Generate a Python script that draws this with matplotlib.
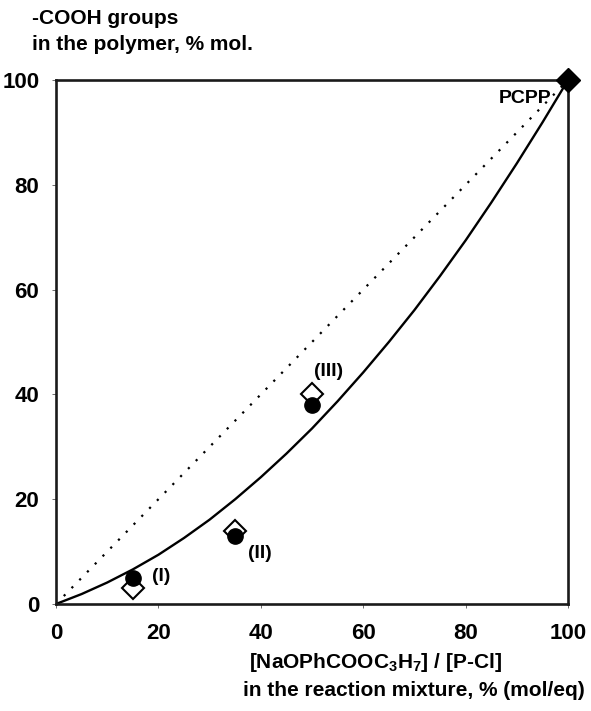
import matplotlib
matplotlib.use("Agg")
import matplotlib.pyplot as plt

plt.rcParams['font.family'] = ['Liberation Sans', 'DejaVu Sans']
plt.rcParams['font.weight'] = 'bold'
plt.rcParams['mathtext.fontset'] = 'custom'
plt.rcParams['mathtext.rm'] = 'Liberation Sans:bold'
plt.rcParams['mathtext.default'] = 'rm'

# filled circles and open diamonds (samples I, II, III)
circle_x = [15, 35, 50]
circle_y = [5, 13, 38]
diamond_x = [15, 35, 50]
diamond_y = [3, 14, 40]
pcpp_x = [100]
pcpp_y = [100]

# solid curve, every 5 units
curve_x = [0, 5, 10, 15, 20, 25, 30, 35, 40, 45, 50,
           55, 60, 65, 70, 75, 80, 85, 90, 95, 100]
curve_y = [0, 1.9, 4.1, 6.6, 9.4, 12.6, 16.1, 20.0, 24.2, 28.7, 33.5,
           38.7, 44.2, 50.0, 56.1, 62.6, 69.4, 76.6, 84.1, 91.9, 100]

# dotted diagonal
diag_x = [0, 100]
diag_y = [0, 100]

ticks = [0, 20, 40, 60, 80, 100]

fig = plt.figure(figsize=(5.91, 7.11), dpi=100)
ax = fig.add_axes([0.0948, 0.1505, 0.8664, 0.737])

ax.plot(diag_x, diag_y, color='black', linestyle=(0, (1, 4)), linewidth=1.6)
ax.plot(curve_x, curve_y, color='black', linewidth=1.7)
ax.plot(diamond_x, diamond_y, linestyle='none', marker='D', markersize=11,
        markerfacecolor='white', markeredgecolor='black', markeredgewidth=1.5,
        clip_on=False, zorder=3)
ax.plot(circle_x, circle_y, linestyle='none', marker='o', markersize=11,
        color='black', clip_on=False, zorder=4)
ax.plot(pcpp_x, pcpp_y, linestyle='none', marker='D', markersize=12.5,
        color='black', clip_on=False, zorder=5)

# labels on the points
ax.text(91.6, 96.4, 'PCPP', fontsize=14, fontweight='bold', ha='center', va='center')
ax.text(20.6, 5.2, '(I)', fontsize=14, fontweight='bold', ha='center', va='center')
ax.text(39.8, 9.7, '(II)', fontsize=14, fontweight='bold', ha='center', va='center')
ax.text(53.2, 44.3, '(III)', fontsize=14, fontweight='bold', ha='center', va='center')

ax.set_xlim(0, 100)
ax.set_ylim(0, 100)
ax.set_xticks(ticks)
ax.set_yticks(ticks)
ax.tick_params(direction='out', length=3, width=0.6, color='#555555', labelsize=16)
ax.tick_params(axis='x', pad=11)
ax.tick_params(axis='y', pad=9)
for lab in ax.get_xticklabels() + ax.get_yticklabels():
    lab.set_fontweight('bold')
for s in ax.spines.values():
    s.set_linewidth(1.9)
    s.set_color('#1a1a1a')

# axis titles
fig.text(0.054, 0.966, '-COOH groups', fontsize=15, fontweight='bold', va='baseline', ha='left')
fig.text(0.054, 0.930, 'in the polymer, % mol.', fontsize=15, fontweight='bold', va='baseline', ha='left')
fig.text(0.421, 0.0605, '[NaOPhCOOC$_3$H$_7$] / [P-Cl]', fontsize=15, va='baseline', ha='left')
fig.text(0.99, 0.021, 'in the reaction mixture, % (mol/eq)', fontsize=15, fontweight='bold',
         va='baseline', ha='right')

fig.savefig('out.png', dpi=100)
